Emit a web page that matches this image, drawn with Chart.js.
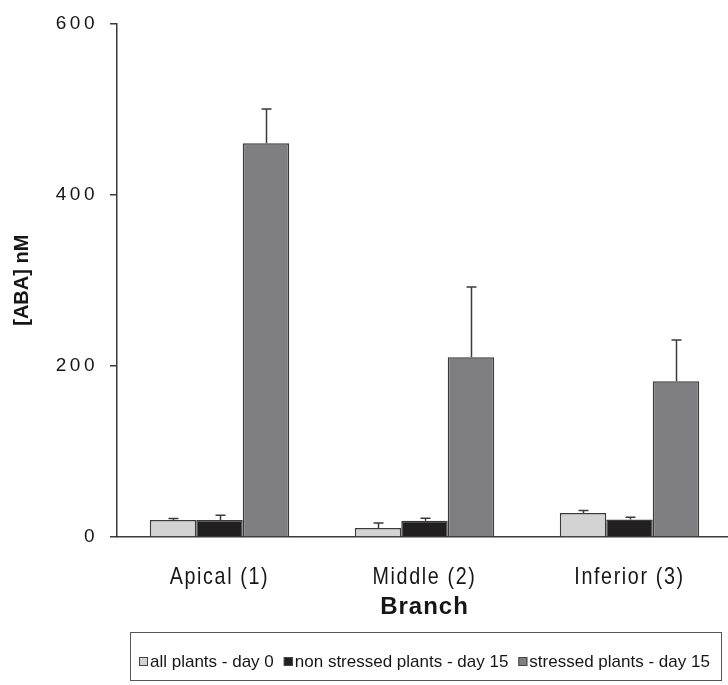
<!DOCTYPE html>
<html>
<head>
<meta charset="utf-8">
<script src="https://cdn.jsdelivr.net/npm/chart.js@4/dist/chart.umd.min.js"></script>
<style>
  html, body { margin: 0; padding: 0; background: #fff; overflow: hidden; }
  #wrap { position: relative; width: 732px; height: 685px; }
</style>
</head>
<body>
<div id="wrap"><canvas id="c" width="732" height="685"></canvas></div>
<script>
// ABA concentration per branch position
const branches = ['Apical (1)', 'Middle (2)', 'Inferior (3)'];
const seriesNames = ['all plants - day 0', 'non stressed plants - day 15', 'stressed plants - day 15'];
const allPlantsDay0 = [20, 10.5, 28];
const allPlantsDay0Err = [1.5, 6, 3];
const nonStressedDay15 = [20, 19, 20.5];
const nonStressedDay15Err = [5.5, 3, 2.5];
const stressedDay15 = [460, 210, 182];
const stressedDay15Err = [40, 82, 48];
const yTicks = [0, 200, 400, 600];

const SANS = "'Liberation Sans', Arial, sans-serif";
const INK = '#161616';
const EDGE = '#3a3a3a';
const NARROW_FACTOR = 0.82;

// run fn with text squeezed horizontally around each anchor point
function condensed(ctx, factor, fn) {
  const orig = CanvasRenderingContext2D.prototype.fillText;
  ctx.fillText = function (t, x, y) {
    this.save();
    this.translate(x, y);
    this.scale(factor, 1);
    orig.call(this, t, 0, 0);
    this.restore();
  };
  try { fn(); } finally { delete ctx.fillText; }
}

// letter spacing / condensing applied while each axis paints its text
const textStyle = {
  x: { labels: '2px', title: '1px', squeeze: NARROW_FACTOR },
  y: { labels: '3.5px', title: '0px', squeeze: 1 }
};
const axisTextPlugin = {
  id: 'axisText',
  beforeDraw(chart) {
    for (const id of ['x', 'y']) {
      const s = chart.scales[id];
      if (!s || s._styled) continue;
      const dl = s.drawLabels, dt = s.drawTitle;
      s.drawLabels = function (a) {
        const c = this.ctx, prev = c.letterSpacing;
        c.letterSpacing = textStyle[id].labels;
        condensed(c, textStyle[id].squeeze, () => dl.call(this, a));
        c.letterSpacing = prev;
      };
      s.drawTitle = function (a) {
        const c = this.ctx, prev = c.letterSpacing;
        c.letterSpacing = textStyle[id].title;
        dt.call(this, a);
        c.letterSpacing = prev;
      };
      s._styled = true;
    }
  }
};

// upward error bars with a short cap
const errorBarPlugin = {
  id: 'errorBars',
  afterDatasetsDraw(chart) {
    const ctx = chart.ctx, y = chart.scales.y;
    ctx.save();
    ctx.strokeStyle = EDGE;
    ctx.lineWidth = 1.5;
    chart.data.datasets.forEach((ds, i) => {
      const meta = chart.getDatasetMeta(i);
      meta.data.forEach((bar, j) => {
        const top = y.getPixelForValue(ds.data[j] + ds.errors[j]);
        const x = Math.round(bar.x) + 0.5;
        ctx.beginPath();
        ctx.moveTo(x, bar.y);
        ctx.lineTo(x, top);
        ctx.moveTo(x - 5, top);
        ctx.lineTo(x + 5, top);
        ctx.stroke();
      });
    });
    ctx.restore();
  }
};

// boxed legend below the axis
const boxLegendPlugin = {
  id: 'boxLegend',
  afterDraw(chart) {
    const ctx = chart.ctx;
    ctx.save();
    ctx.strokeStyle = '#555';
    ctx.lineWidth = 1;
    ctx.strokeRect(130.5, 632.5, 591, 48);
    ctx.font = '17px ' + SANS;
    ctx.textBaseline = 'middle';
    let x = 139;
    const cy = 662;
    chart.data.datasets.forEach(ds => {
      ctx.fillStyle = ds.backgroundColor;
      ctx.fillRect(x, cy - 5, 9, 9);
      ctx.strokeStyle = '#444';
      ctx.strokeRect(x + 0.5, cy - 4.5, 8, 8);
      ctx.fillStyle = INK;
      ctx.fillText(ds.label, x + 11, cy);
      x += 11 + ctx.measureText(ds.label).width + 10;
    });
    ctx.restore();
  }
};

const barStyle = { borderColor: EDGE, borderWidth: 1.5 };

new Chart(document.getElementById('c'), {
  type: 'bar',
  data: {
    labels: branches,
    datasets: [
      { label: seriesNames[0], data: allPlantsDay0, errors: allPlantsDay0Err, backgroundColor: '#d3d3d3', ...barStyle },
      { label: seriesNames[1], data: nonStressedDay15, errors: nonStressedDay15Err, backgroundColor: '#221f20', ...barStyle },
      { label: seriesNames[2], data: stressedDay15, errors: stressedDay15Err, backgroundColor: '#7f7f81', ...barStyle }
    ]
  },
  options: {
    responsive: false,
    animation: false,
    events: [],
    categoryPercentage: 0.68,
    barPercentage: 1.0,
    layout: { padding: { left: 0, right: 0, top: 23, bottom: 63 } },
    plugins: { legend: { display: false }, tooltip: { enabled: false } },
    scales: {
      x: {
        grid: { display: false, drawTicks: false },
        border: { display: true, color: EDGE, width: 1.5 },
        ticks: { color: INK, padding: 26, font: { family: SANS, size: 24 } },
        title: { display: true, text: 'Branch', color: INK, padding: { top: 0, bottom: 0 },
                 font: { family: SANS, size: 24, weight: 'bold' } },
        afterFit: s => { s.height = 85; }
      },
      y: {
        min: 0, max: 600,
        afterBuildTicks: s => { s.ticks = yTicks.map(v => ({ value: v })); },
        grid: { drawOnChartArea: false, drawTicks: true, tickLength: 7, color: EDGE, lineWidth: 1.5 },
        border: { display: true, color: EDGE, width: 1.5 },
        ticks: { color: INK, padding: 12, font: { family: SANS, size: 19 } },
        title: { display: true, text: '[ABA] nM', color: INK, padding: { top: 10, bottom: 0 },
                 font: { family: SANS, size: 20, weight: 'bold' } },
        afterFit: s => { s.width = 117; }
      }
    }
  },
  plugins: [axisTextPlugin, errorBarPlugin, boxLegendPlugin]
});
</script>
</body>
</html>
